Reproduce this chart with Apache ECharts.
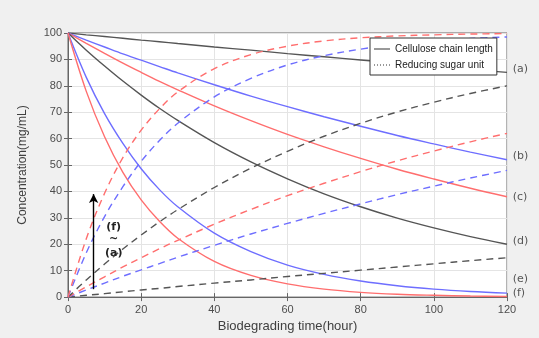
<!DOCTYPE html>
<html>
<head>
<meta charset="utf-8">
<script src="https://cdn.jsdelivr.net/npm/echarts@6/dist/echarts.min.js"></script>
<style>
  html, body { margin: 0; padding: 0; background: #f0f0f0; }
  #chart { width: 539px; height: 338px; }
</style>
</head>
<body>
<div id="chart"></div>
<script>
// hours
const times = [0, 5, 10, 15, 20, 25, 30, 40, 50, 60, 70, 80, 90, 100, 110, 120]

// cellulose chain length (solid)
const chainA = [100, 99.3, 98.7, 98.0, 97.3, 96.7, 96.0, 94.7, 93.5, 92.2, 91.0, 89.8, 88.6, 87.4, 86.2, 85.1]
const chainB = [100, 97.3, 94.7, 92.1, 89.7, 87.3, 84.9, 80.4, 76.1, 72.1, 68.3, 64.7, 61.2, 58.0, 54.9, 52.0]
const chainC = [100, 96.1, 92.3, 88.6, 85.1, 81.7, 78.5, 72.4, 66.8, 61.6, 56.9, 52.5, 48.4, 44.7, 41.2, 38.0]
const chainD = [100, 93.5, 87.5, 81.8, 76.5, 71.5, 66.9, 58.5, 51.2, 44.8, 39.1, 34.2, 29.9, 26.2, 22.9, 20.0]
const chainE = [100, 83.2, 69.5, 58.2, 48.6, 40.7, 34.2, 24.2, 17.2, 12.1, 8.6, 6.1, 4.3, 3.0, 2.1, 1.5]
const chainF = [100, 77.9, 60.7, 47.2, 36.8, 28.7, 22.3, 13.5, 8.2, 5.0, 3.0, 1.8, 1.1, 0.7, 0.4, 0.2]

// reducing sugar unit (dashed)
const sugarA = [0, 0.7, 1.3, 2.0, 2.7, 3.3, 4.0, 5.3, 6.5, 7.8, 9.0, 10.2, 11.4, 12.6, 13.8, 14.9]
const sugarB = [0, 2.7, 5.3, 7.9, 10.3, 12.7, 15.1, 19.6, 23.9, 27.9, 31.7, 35.3, 38.8, 42.0, 45.1, 48.0]
const sugarC = [0, 3.9, 7.7, 11.4, 14.9, 18.3, 21.5, 27.6, 33.2, 38.4, 43.1, 47.5, 51.6, 55.3, 58.8, 62.0]
const sugarD = [0, 6.5, 12.5, 18.2, 23.5, 28.5, 33.1, 41.5, 48.8, 55.2, 60.9, 65.8, 70.1, 73.8, 77.1, 80.0]
const sugarE = [0, 16.8, 30.5, 41.8, 51.4, 59.3, 65.8, 75.8, 82.8, 87.9, 91.4, 93.9, 95.7, 97.0, 97.9, 98.5]
const sugarF = [0, 22.1, 39.3, 52.8, 63.2, 71.3, 77.7, 86.5, 91.8, 95.0, 97.0, 98.2, 98.9, 99.3, 99.6, 99.8]

// curve labels on the right side
const curveLabels = ['(a)', '(b)', '(c)', '(d)', '(e)', '(f)']
const curveLabelY = [85.6, 52.8, 37.4, 20.8, 6.4, 0.8]

const black = '#555555'
const blue = '#6e6eff'
const red = '#ff6e6e'

const pairs = arr => times.map((t, i) => [t, arr[i]])

function curve(arr, color, dashed) {
  return {
    type: 'line',
    data: pairs(arr),
    smooth: 0.35,
    showSymbol: false,
    symbol: 'none',
    silent: true,
    lineStyle: { color: color, width: 1.4, type: dashed ? [7, 5] : 'solid' },
    z: 3
  }
}

const chart = echarts.init(document.getElementById('chart'))

const axisCommon = {
  type: 'value',
  axisLine: { show: true, lineStyle: { color: '#666', width: 1 } },
  axisTick: { show: true, inside: true, length: 4, lineStyle: { color: '#666' } },
  splitLine: { show: true, lineStyle: { color: '#e4e4e4', width: 1 } },
  axisLabel: { color: '#4d4d4d', fontSize: 11, fontFamily: 'Liberation Sans' }
}

// thin line icons for the legend
const solidIcon = 'path://M0,0h16v1h-16z'
const dottedIcon = 'path://M0,0h1v1h-1zM3,0h1v1h-1zM6,0h1v1h-1zM9,0h1v1h-1zM12,0h1v1h-1zM15,0h1v1h-1z'

let option = {
  backgroundColor: '#f0f0f0',
  animation: false,
  textStyle: { fontFamily: 'Liberation Sans' },
  grid: {
    left: 68, right: 32, top: 33, bottom: 40,
    show: true, backgroundColor: '#fff', borderColor: '#666', borderWidth: 1
  },
  legend: {
    left: 370, top: 38,
    orient: 'vertical',
    itemWidth: 16, itemHeight: 1.3, itemGap: 6,
    padding: [6, 4, 5, 4],
    backgroundColor: '#fff',
    borderColor: '#333', borderWidth: 1, borderRadius: 0,
    textStyle: { fontSize: 10, color: '#222', fontFamily: 'Liberation Sans' },
    data: [
      { name: 'Cellulose chain length', icon: solidIcon },
      { name: 'Reducing sugar unit', icon: dottedIcon }
    ]
  },
  xAxis: [
    Object.assign({}, axisCommon, {
      min: 0, max: 120, interval: 20,
      name: 'Biodegrading time(hour)',
      nameLocation: 'middle', nameGap: 21,
      nameTextStyle: { fontSize: 13, color: '#404040' },
      axisLabel: Object.assign({}, axisCommon.axisLabel, { margin: 7 })
    }),
    {
      type: 'value', position: 'top', min: 0, max: 120, interval: 20,
      axisLine: { show: true, lineStyle: { color: '#666' } },
      axisTick: { show: true, inside: true, length: 4, lineStyle: { color: '#666' } },
      axisLabel: { show: false }, splitLine: { show: false }
    }
  ],
  yAxis: [
    Object.assign({}, axisCommon, {
      min: 0, max: 100, interval: 10,
      name: 'Concentration(mg/mL)',
      nameLocation: 'middle', nameGap: 39,
      nameTextStyle: { fontSize: 12, color: '#404040' },
      axisLabel: Object.assign({}, axisCommon.axisLabel, { margin: 6 })
    }),
    {
      type: 'value', position: 'right', min: 0, max: 100, interval: 10,
      axisLine: { show: true, lineStyle: { color: '#666' } },
      axisTick: { show: true, inside: true, length: 4, lineStyle: { color: '#666' } },
      axisLabel: { show: false }, splitLine: { show: false }
    }
  ],
  series: [
    { name: 'Cellulose chain length', type: 'line', data: [], symbol: 'none',
      itemStyle: { color: '#333' }, lineStyle: { color: '#333', width: 1.2 } },
    { name: 'Reducing sugar unit', type: 'line', data: [], symbol: 'none',
      itemStyle: { color: '#333' }, lineStyle: { color: '#333', width: 1.2, type: 'dotted' } },
    curve(chainA, black, false),
    curve(chainB, blue, false),
    curve(chainC, red, false),
    curve(chainD, black, false),
    curve(chainE, blue, false),
    curve(chainF, red, false),
    curve(sugarA, black, true),
    curve(sugarB, blue, true),
    curve(sugarC, red, true),
    curve(sugarD, black, true),
    curve(sugarE, blue, true),
    curve(sugarF, red, true),
    {
      // arrow annotation
      type: 'line', data: [], symbol: 'none', silent: true,
      markLine: {
        silent: true,
        symbol: ['none', 'arrow'], symbolSize: [7, 9],
        lineStyle: { color: '#000', width: 1.4, type: 'solid' },
        label: { show: false },
        data: [[{ coord: [7, 3] }, { coord: [7, 39] }]]
      },
      markPoint: {
        silent: true,
        symbol: 'circle', symbolSize: 0,
        label: { show: true, color: '#222', fontSize: 11, fontWeight: 'bold', fontFamily: 'DejaVu Sans' },
        data: [
          { coord: [12.5, 26.4], label: { formatter: '(f)' } },
          { coord: [12.5, 21.8], label: { formatter: '~' } },
          { coord: [12.5, 16.8], label: { formatter: '(a)' } }
        ]
      }
    }
  ]
}

chart.setOption(option)

// side labels for each curve
const graphics = curveLabels.map((txt, i) => {
  const p = chart.convertToPixel({ gridIndex: 0 }, [124, curveLabelY[i]])
  return {
    type: 'text', left: p[0] - 9, top: p[1] - 7,
    style: { text: txt, fill: '#555', fontSize: 11, fontFamily: 'DejaVu Sans' }
  }
})
chart.setOption({ graphic: graphics })
</script>
</body>
</html>
